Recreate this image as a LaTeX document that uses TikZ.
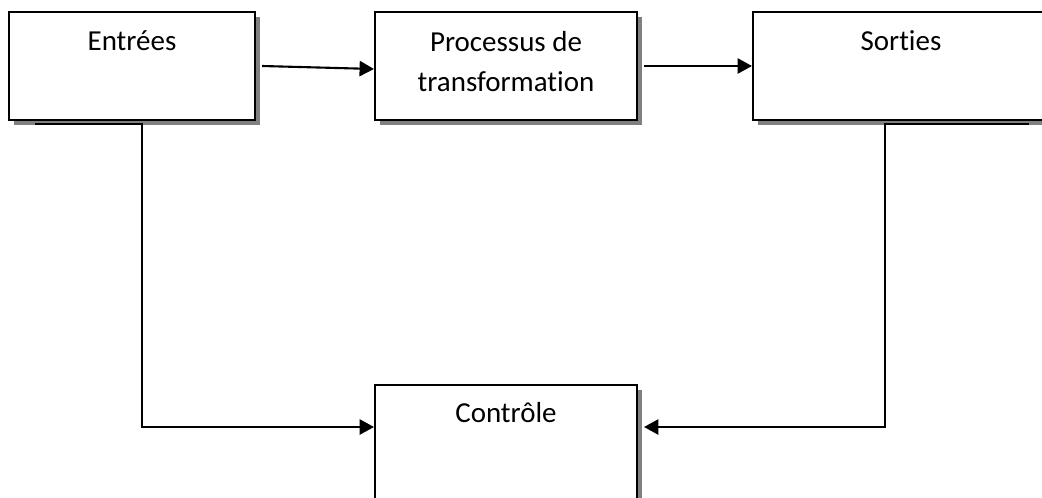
\documentclass[tikz,border=0pt]{standalone}
\usepackage{fontspec}
\setmainfont[Ligatures=NoCommon]{Carlito}
\usetikzlibrary{arrows.meta,shadows,positioning}
\tikzset{
  box/.style={draw=black,fill=white,line width=1.4pt,inner sep=0pt,
              drop shadow={shadow xshift=0.13cm,shadow yshift=-0.13cm,fill=black!50,opacity=1}},
  lbl/.style={font=\fontsize{20.6}{28.45}\selectfont,align=center,inner sep=0pt,anchor=base},
  link/.style={line width=1.5pt,-{Triangle[length=0.36cm,width=0.38cm]}}
}
\begin{document}
\begin{tikzpicture}[x=0.025cm,y=-0.025cm]
  \clip (0,0) rectangle (1042,498);
  % The three stages and the control box.
  \node[box,minimum width=6.15cm,minimum height=2.7cm] (ent) at (132,66) {};
  \node[box,minimum width=6.55cm,minimum height=2.7cm] (proc) at (506,66) {};
  \node[box,minimum width=7.4cm,minimum height=2.7cm] (sor) at (901,66) {};
  \node[box,minimum width=6.55cm,minimum height=3.0cm] (ctl) at (506,445) {};
  \node[lbl] (entlbl) at ([yshift=-0.975cm]ent.north) {Entrées};
  \node[lbl] (proclbl) at ([yshift=-2.0cm]proc.north) {Processus de\\transformation};
  \node[lbl] (sorlbl) at ([yshift=-0.975cm]sor.north) {Sorties};
  \node[lbl] (ctllbl) at ([yshift=-0.95cm]ctl.north) {Contrôle};

  % Flow from left to right.
  \draw[link] ([xshift=0.15cm]ent.east) -- ([yshift=-0.075cm]proc.west);
  \draw[link] ([xshift=0.15cm]proc.east) -- (sor.west);

  % Feedback into the control box.
  \coordinate (entfoot) at (35,124);
  \coordinate (entbend) at (142,124);
  \coordinate (sorfoot) at (1029,124);
  \coordinate (sorbend) at (885,124);
  \draw[link] (entfoot) -- (entbend) |- ([yshift=-1.075cm]ctl.north west);
  \draw[link] (sorfoot) -- (sorbend) |- ([xshift=0.15cm,yshift=-1.075cm]ctl.north east);
\end{tikzpicture}
\end{document}
